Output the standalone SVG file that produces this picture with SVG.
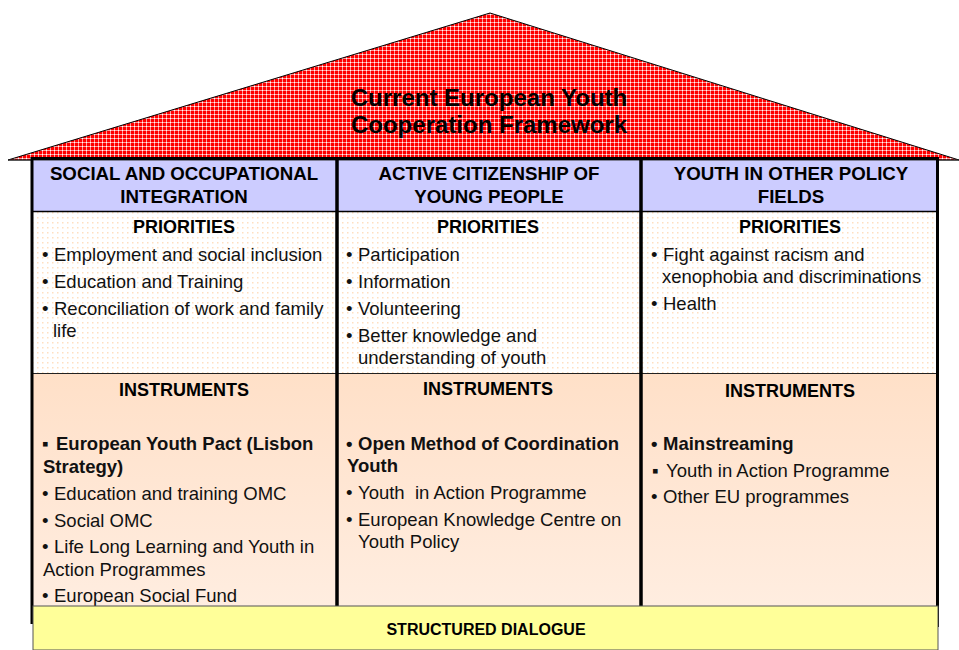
<svg xmlns="http://www.w3.org/2000/svg" width="959" height="650" viewBox="0 0 959 650">
<defs>
<pattern id="roofPat" width="4" height="4" patternUnits="userSpaceOnUse">
<rect width="4" height="4" fill="#FF0000"/>
<rect y="2" width="4" height="1" fill="#FF9A9A"/>
<rect x="2" width="1" height="4" fill="#FF9A9A"/>
<rect x="2" y="2" width="1" height="1" fill="#FFFFFF"/>
</pattern>
<pattern id="dots" width="5" height="5" patternUnits="userSpaceOnUse">
<rect width="5" height="5" fill="#FFFFFF"/>
<rect x="2" y="2" width="1.5" height="1.5" fill="#FFDFC0"/>
</pattern>
<linearGradient id="instrGrad" x1="0" y1="0" x2="0" y2="1">
<stop offset="0" stop-color="#FFE0C8"/>
<stop offset="1" stop-color="#FFEDE0"/>
</linearGradient>
<style>
text{font-family:"Liberation Sans",Arial,sans-serif;fill:#000;}
.title{font-size:24px;font-weight:bold;text-anchor:middle;}
.hdr{font-size:18.7px;font-weight:bold;text-anchor:middle;}
.sub{font-size:18px;font-weight:bold;text-anchor:middle;}
.item{font-size:18.5px;fill:#111;}
.b{font-weight:bold;}
.sd{font-size:16px;font-weight:bold;text-anchor:middle;}
.hfill{fill:#CCCCFF;}
.pfill{fill:url(#dots);}
.ifill{fill:url(#instrGrad);}
</style>
</defs>
<rect width="959" height="650" fill="#FFFFFF"/>

<g id="roof">
<polygon points="8,160 490,13 959,160" fill="url(#roofPat)" stroke="#000" stroke-width="1"/>
<text class="title" x="489" y="106">Current European Youth</text>
<text class="title" x="489" y="133">Cooperation Framework</text>
</g>

<g id="column1">
<rect class="hfill" x="33" y="158" width="303" height="53"/>
<text class="hdr" x="184" y="180">SOCIAL AND OCCUPATIONAL</text>
<text class="hdr" x="184" y="203">INTEGRATION</text>
<rect class="pfill" x="33" y="211" width="303" height="162"/>
<text class="sub" x="184" y="233">PRIORITIES</text>
<text class="item"><tspan x="42" y="261">•</tspan><tspan x="54" y="261">Employment and social inclusion</tspan></text>
<text class="item"><tspan x="42" y="288">•</tspan><tspan x="54" y="288">Education and Training</tspan></text>
<text class="item"><tspan x="42" y="315">•</tspan><tspan x="54" y="315">Reconciliation of work and family</tspan><tspan x="53" y="337">life</tspan></text>
<rect class="ifill" x="33" y="373" width="303" height="233"/>
<text class="sub" x="184" y="396">INSTRUMENTS</text>
<text class="item b"><tspan x="42" y="450">▪</tspan><tspan x="56" y="450">European Youth Pact (Lisbon</tspan><tspan x="43" y="473">Strategy)</tspan></text>
<text class="item"><tspan x="42" y="500">•</tspan><tspan x="54" y="500">Education and training OMC</tspan></text>
<text class="item"><tspan x="42" y="527">•</tspan><tspan x="54" y="527">Social OMC</tspan></text>
<text class="item"><tspan x="42" y="553">•</tspan><tspan x="54" y="553">Life Long Learning and Youth in</tspan><tspan x="43" y="576">Action Programmes</tspan></text>
<text class="item"><tspan x="42" y="602">•</tspan><tspan x="54" y="602">European Social Fund</tspan></text>
</g>

<g id="column2">
<rect class="hfill" x="337" y="158" width="304" height="53"/>
<text class="hdr" x="489" y="180">ACTIVE CITIZENSHIP OF</text>
<text class="hdr" x="489" y="203">YOUNG PEOPLE</text>
<rect class="pfill" x="337" y="211" width="304" height="162"/>
<text class="sub" x="488" y="233">PRIORITIES</text>
<text class="item"><tspan x="346" y="261">•</tspan><tspan x="358" y="261">Participation</tspan></text>
<text class="item"><tspan x="346" y="288">•</tspan><tspan x="358" y="288">Information</tspan></text>
<text class="item"><tspan x="346" y="315">•</tspan><tspan x="358" y="315">Volunteering</tspan></text>
<text class="item"><tspan x="346" y="342">•</tspan><tspan x="358" y="342">Better knowledge and</tspan><tspan x="358" y="364">understanding of youth</tspan></text>
<rect class="ifill" x="337" y="373" width="304" height="233"/>
<text class="sub" x="488" y="395">INSTRUMENTS</text>
<text class="item b"><tspan x="346" y="450">•</tspan><tspan x="358" y="450">Open Method of Coordination</tspan><tspan x="347" y="472">Youth</tspan></text>
<text class="item" xml:space="preserve"><tspan x="346" y="499">•</tspan><tspan x="358" y="499">Youth  in Action Programme</tspan></text>
<text class="item"><tspan x="346" y="526">•</tspan><tspan x="358" y="526">European Knowledge Centre on</tspan><tspan x="358" y="548">Youth Policy</tspan></text>
</g>

<g id="column3">
<rect class="hfill" x="641" y="158" width="296" height="53"/>
<text class="hdr" x="791" y="180">YOUTH IN OTHER POLICY</text>
<text class="hdr" x="791" y="203">FIELDS</text>
<rect class="pfill" x="641" y="211" width="296" height="162"/>
<text class="sub" x="790" y="233">PRIORITIES</text>
<text class="item"><tspan x="651" y="261">•</tspan><tspan x="663" y="261">Fight against racism and</tspan><tspan x="662" y="283">xenophobia and discriminations</tspan></text>
<text class="item"><tspan x="651" y="310">•</tspan><tspan x="663" y="310">Health</tspan></text>
<rect class="ifill" x="641" y="373" width="296" height="233"/>
<text class="sub" x="790" y="397">INSTRUMENTS</text>
<text class="item b"><tspan x="651" y="450">•</tspan><tspan x="663" y="450">Mainstreaming</tspan></text>
<text class="item"><tspan x="652" y="477">▪</tspan><tspan x="666" y="477">Youth in Action Programme</tspan></text>
<text class="item"><tspan x="651" y="503">•</tspan><tspan x="663" y="503">Other EU programmes</tspan></text>
</g>

<g id="frame" fill="none" stroke="#000">
<line x1="8" y1="160" x2="959" y2="160" stroke="#333" stroke-width="1"/>
<line x1="33" y1="211.5" x2="937" y2="211.5" stroke-width="1.5"/>
<line x1="33" y1="373.5" x2="937" y2="373.5" stroke="#222" stroke-width="1.2"/>
<line x1="33" y1="158.5" x2="937" y2="158.5" stroke-width="3"/>
<line x1="32" y1="157" x2="32" y2="624" stroke-width="3"/>
<line x1="937.5" y1="157" x2="937.5" y2="627" stroke-width="3"/>
<line x1="337" y1="157" x2="337" y2="606" stroke-width="3.5"/>
<line x1="641" y1="157" x2="641" y2="606" stroke-width="3.5"/>
</g>

<g id="structured-dialogue">
<rect x="33" y="606" width="905" height="44" fill="#FFFF99" stroke="#555" stroke-width="1"/>
<text class="sd" x="486" y="635">STRUCTURED DIALOGUE</text>
</g>
</svg>
